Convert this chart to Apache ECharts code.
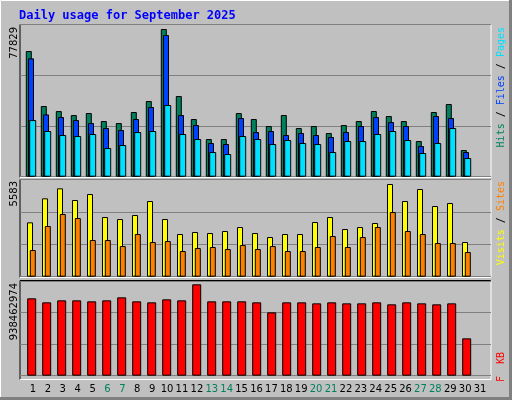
<!DOCTYPE html>
<html><head><meta charset="utf-8">
<script src="https://cdn.jsdelivr.net/npm/echarts@6/dist/echarts.min.js"></script>
<style>html,body{margin:0;padding:0;background:#c0c0c0}#c{width:512px;height:400px}</style>
</head><body><div id="c"></div>
<script>
const days = Array.from({length:31},(_,i)=>String(i+1));
const weekendDays = ['6','7','13','14','20','21','27','28'];
const hits  = [64350,36200,33600,31580,32600,28500,27480,33120,38750,75620,41310,29530,19290,19290,32600,29530,25950,31580,24920,25950,22360,26460,28500,33630,31070,28500,18260,33120,37210,13660,null];
const files = [60600,31900,30560,29020,27480,24920,23900,29530,35680,72550,31580,26460,17240,16730,30040,22870,23390,21340,22360,21340,20310,22870,25950,30560,28000,25950,15700,31070,30040,12630,null];
const pages = [29000,23400,21340,20830,21850,14680,16220,22870,23390,36700,21850,19290,12630,11610,20830,19290,16730,18780,17240,16730,12630,18260,18260,21850,23390,18780,12120,17240,24920,9560,null];
const visits= [3128,4510,5085,4414,4759,3435,3320,3550,4356,3320,2456,2571,2514,2629,2859,2514,2284,2456,2456,3147,3435,2744,2859,3090,5335,4356,5047,4068,4241,1996,null];
const sites = [1535,2917,3608,3377,2111,2111,1765,2456,1996,2053,1478,1650,1708,1593,1823,1593,1765,1478,1478,1708,2341,1708,2284,2859,3723,2629,2456,1938,1938,1420,null];
const kbytes= [766600000,727000000,746800000,746800000,737000000,746800000,776500000,737000000,727000000,756700000,746800000,905400000,737000000,737000000,737000000,727000000,627800000,727000000,727000000,717000000,727000000,717000000,717000000,727000000,707200000,727000000,717000000,707200000,717000000,370100000,null];
const maxTop = 77829, maxMid = 5583, maxBot = 938462974;

const pts = arr => arr.map((v,i)=>[i+1,v]);
function xa(grid,c){const m=1-(c-20)/15;return {type:'value',gridIndex:grid,min:m,max:m+471/15,show:false};}
function ya(grid,max){return {type:'value',gridIndex:grid,min:0,max:max,interval:max/3,axisLabel:{show:false},axisLine:{show:false},axisTick:{show:false},splitLine:{show:true,lineStyle:{color:'#808080',width:1}}};}
function bar(xi,yi,data,color,w){return {type:'bar',xAxisIndex:xi,yAxisIndex:yi,data:pts(data),barWidth:w,itemStyle:{color:color,borderColor:'#000',borderWidth:1},silent:true,animation:false};}

function frame(x1,y1,x2,y2){return [
 {type:'line',shape:{x1:x1,y1:y1,x2:x2,y2:y1},style:{stroke:'#000',lineWidth:1}},
 {type:'line',shape:{x1:x1,y1:y1,x2:x1,y2:y2},style:{stroke:'#000',lineWidth:1}},
 {type:'line',shape:{x1:x1,y1:y2,x2:x2,y2:y2},style:{stroke:'#fff',lineWidth:1}},
 {type:'line',shape:{x1:x2,y1:y1,x2:x2,y2:y2},style:{stroke:'#fff',lineWidth:1}}];}
function vtext(x,y,text,rich,size){return {type:'text',x:x,y:y,rotation:Math.PI/2,z:10,style:{text:text,rich:rich,fill:'#000',font:size+'px "DejaVu Sans Mono"',align:'right',verticalAlign:'middle'}};}
function ylab(x,y,t){return {type:'text',x:x,y:y,rotation:Math.PI/2,z:10,style:{text:t,fill:'#000',font:'10px "DejaVu Sans"',align:'right',verticalAlign:'middle'}};}

const chart = echarts.init(document.getElementById('c'));
chart.setOption({
 backgroundColor:'#c0c0c0', animation:false,
 grid:[
  {left:20,top:24.7,width:471,height:152},
  {left:20,top:179.7,width:471,height:97},
  {left:20,top:281,width:471,height:94.7},
  {left:25.5,top:380,width:462,height:1}
 ],
 xAxis:[xa(0,28.8),xa(0,31),xa(0,32.7),xa(1,30),xa(1,32.8),xa(2,31.7),
  {type:'category',gridIndex:3,data:days,axisLine:{show:false},axisTick:{show:false},
   axisLabel:{interval:0,margin:3,fontFamily:'DejaVu Sans',fontSize:10,
   color:(v)=>weekendDays.includes(v)?'#00805c':'#000'}}],
 yAxis:[ya(0,maxTop),ya(1,maxMid),ya(2,maxBot),{type:'value',gridIndex:3,show:false}],
 series:[
  bar(0,0,hits,'#00805c',6),bar(1,0,files,'#0040ff',6),bar(2,0,pages,'#00e0ff',7),
  bar(3,1,visits,'#ffff00',6),bar(4,1,sites,'#ff8000',6),
  bar(5,2,kbytes,'#ff0000',9)
 ],
 graphic:[
  {type:'rect',shape:{x:0,y:0,width:512,height:400},z:-1,style:{fill:'none',stroke:null}},
  {type:'line',shape:{x1:0.5,y1:0.5,x2:511,y2:0.5},style:{stroke:'#fff'}},
  {type:'line',shape:{x1:0.5,y1:0.5,x2:0.5,y2:399},style:{stroke:'#fff'}},
  {type:'rect',shape:{x:509,y:0,width:3,height:400},style:{fill:'#808080'}},
  {type:'rect',shape:{x:0,y:397,width:512,height:3},style:{fill:'#808080'}},
  ...frame(20,24.5,491,177.5),
  ...frame(20,179.5,491,277.5),
  ...frame(20,280.5,491,379.5),
  {type:'text',x:19,y:16,z:10,style:{text:'Daily usage for September 2025',fill:'#0000ff',font:'bold 12px "DejaVu Sans Mono"',verticalAlign:'middle'}},
  ylab(14,27,'77829'),ylab(14,181,'5583'),ylab(14,283,'938462974'),
  vtext(501,27,'{h|Hits}{s| / }{f|Files}{s| / }{p|Pages}',{h:{fill:'#00805c',font:'10px "DejaVu Sans Mono"'},f:{fill:'#0040ff',font:'10px "DejaVu Sans Mono"'},p:{fill:'#00e0ff',font:'10px "DejaVu Sans Mono"'},s:{fill:'#000',font:'10px "DejaVu Sans Mono"'}},10),
  vtext(501,181,'{v|Visits}{s| / }{t|Sites}',{v:{fill:'#ffff00',font:'10px "DejaVu Sans Mono"'},t:{fill:'#ff8000',font:'10px "DejaVu Sans Mono"'},s:{fill:'#000',font:'10px "DejaVu Sans Mono"'}},10),
  vtext(501,352,'{k|F  KB}',{k:{fill:'#ff0000',font:'10px "DejaVu Sans Mono"'}},10)
 ]
});
</script></body></html>
